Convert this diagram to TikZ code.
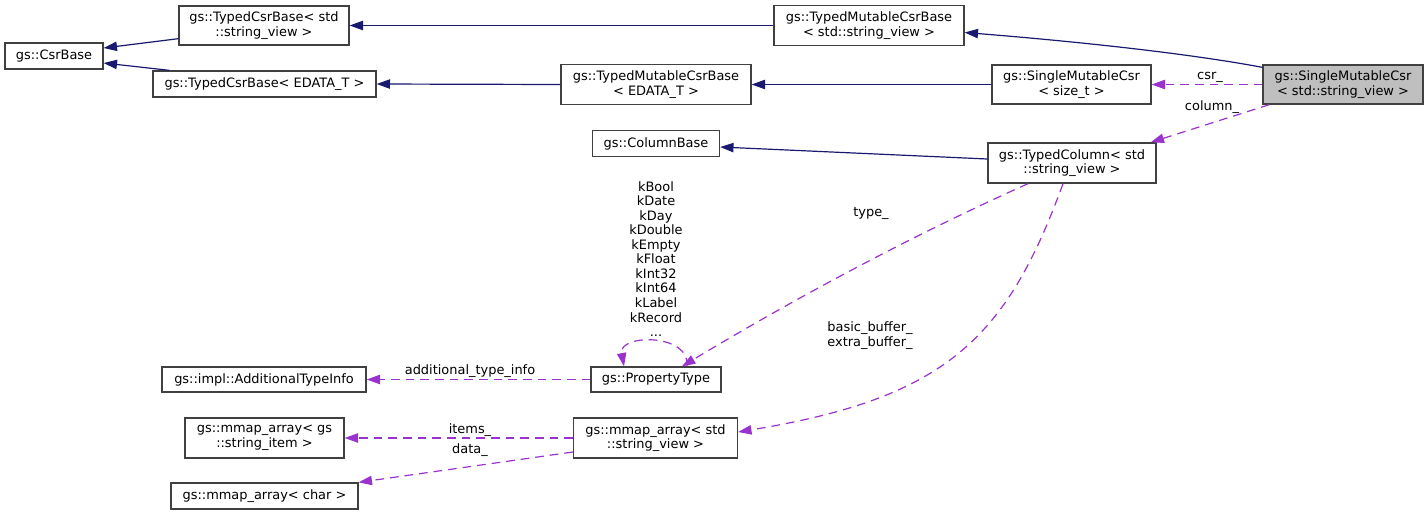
\documentclass[tikz,border=0pt]{standalone}
\usepackage{fontspec}
\setmainfont{DejaVu Sans}
\usetikzlibrary{arrows.meta,calc}
\definecolor{edgeblue}{HTML}{191970}
\definecolor{edgepurple}{HTML}{9A32CD}
\definecolor{boxborder}{HTML}{404040}
\definecolor{boxgray}{HTML}{BFBFBF}
\begin{document}
\begin{tikzpicture}[x=0.75pt,y=-0.75pt,
  font=\fontsize{9.7}{10.9}\selectfont,
  cls/.style 2 args={draw=boxborder, line width=1pt, fill=white, align=center,
    inner sep=0pt, minimum width={#1*0.75pt}, minimum height={#2*0.75pt}},
  inh/.style={draw=edgeblue, line width=0.9pt, -{Triangle[length=10pt,width=7pt]}},
  mem/.style={draw=edgepurple, line width=0.9pt, dash pattern=on 6.5pt off 4.5pt,
    -{Triangle[length=10pt,width=7pt]}},
  lbl/.style={inner sep=0pt, align=center}]
\useasboundingbox (0,0) rectangle (1428,515);

% nodes
\node[cls={98}{26}] (csrbase) at (54,56) {gs::CsrBase};
\node[cls={170}{39}] (tcbsv) at (264,25.5) {gs::TypedCsrBase< std\\::string\_view >};
\node[cls={223}{26}] (tcbed) at (264.5,84) {gs::TypedCsrBase< EDATA\_T >};
\node[cls={190}{40}] (tmcbsv) at (869,25.5) {gs::TypedMutableCsrBase\\< std::string\_view >};
\node[cls={190}{40}] (tmcbed) at (656,84.5) {gs::TypedMutableCsrBase\\< EDATA\_T >};
\node[cls={159}{39}] (smcsize) at (1071.5,84.5) {gs::SingleMutableCsr\\< size\_t >};
\node[cls={160}{39}, fill=boxgray] (smcsv) at (1343,84.5) {gs::SingleMutableCsr\\< std::string\_view >};
\node[cls={168}{40}] (tcol) at (1072,163) {gs::TypedColumn< std\\::string\_view >};
\node[cls={127}{26}] (colbase) at (656,143.5) {gs::ColumnBase};
\node[cls={130}{25}] (ptype) at (656,379.5) {gs::PropertyType};
\node[cls={204}{25}] (addinfo) at (264,379.5) {gs::impl::AdditionalTypeInfo};
\node[cls={164}{40}] (mmsv) at (655.5,438) {gs::mmap\_array< std\\::string\_view >};
\node[cls={159}{40}] (mmitem) at (264.5,438) {gs::mmap\_array< gs\\::string\_item >};
\node[cls={187}{26}] (mmchar) at (264.5,496) {gs::mmap\_array< char >};

% inheritance edges
\draw[inh] ($(smcsv.north west)+(0,3)$) .. controls +(-80,-15) and +(100,8) .. ($(tmcbsv.east)+(0,7)$);
\draw[inh] (tmcbsv.west) -- (tcbsv.east);
\draw[inh] ($(tcbsv.south west)+(0,-7)$) -- ($(csrbase.east)+(0,-8)$);
\draw[inh] ($(tcbed.north west)+(17,0)$) -- ($(csrbase.east)+(0,7)$);
\draw[inh] (tmcbed.west) -- (tcbed.east);
\draw[inh] (smcsize.west) -- (tmcbed.east);
\draw[inh] ($(tcol.west)+(0,-4)$) -- ($(colbase.east)+(0,3.5)$);

% member edges
\draw[mem] (smcsv.west) -- (smcsize.east);
\draw[mem] ($(smcsv.south west)+(7,0)$) -- ($(tcol.north east)+(-6,0)$);
\draw[mem] ($(tcol.south)+(-44,0)$) .. controls (909,237) and (794,299) .. ($(ptype.north)+(26,0)$);
\draw[mem] ($(ptype.north)+(31,0)$) .. controls +(4,-33) and +(-6,-33) .. ($(ptype.north)+(-32,0)$);
\draw[mem] ($(tcol.south)+(-9,0)$) .. controls (1006,340) and (945,398) .. ($(mmsv.east)+(0,-6)$);
\draw[mem] (ptype.west) -- (addinfo.east);
\draw[mem] (mmsv.west) -- (mmitem.east);
\draw[mem] ($(mmsv.west)+(0,14)$) -- (mmchar.north east);

% labels
\node[lbl] (lcsr) at (1210,77) {csr\_};
\node[lbl] (lcol) at (1212,107) {column\_};
\node[lbl] (ltype) at (871,213) {type\_};
\node[lbl] (lenum) at (656,259) {kBool\\kDate\\kDay\\kDouble\\kEmpty\\kFloat\\kInt32\\kInt64\\kLabel\\kRecord\\...};
\node[lbl] (lbuf) at (870,335.5) {basic\_buffer\_\\extra\_buffer\_};
\node[lbl] (laddi) at (470,371) {additional\_type\_info};
\node[lbl] (litems) at (470,430) {items\_};
\node[lbl] (ldata) at (470,450) {data\_};
\end{tikzpicture}
\end{document}
